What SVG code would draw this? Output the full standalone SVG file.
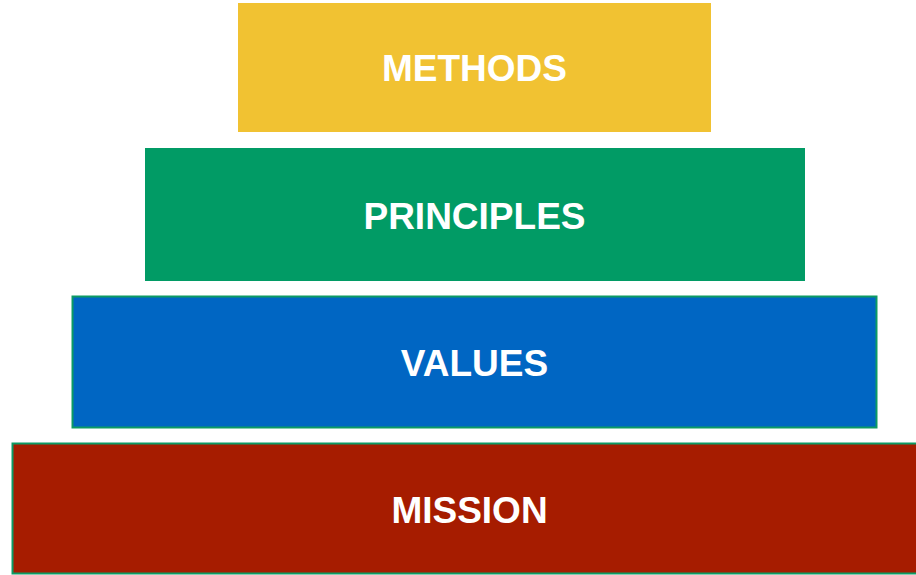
<svg xmlns="http://www.w3.org/2000/svg" width="916" height="575" viewBox="0 0 916 575">
<style>
.t{font-family:"Liberation Sans",Arial,sans-serif;font-weight:bold;font-size:37px;fill:#fff;text-anchor:middle}
</style>
<rect width="916" height="575" fill="#fff"/>
<g id="methods"><rect x="238" y="3" width="473" height="129" fill="#F1C232"/><text class="t" x="474.5" y="81">METHODS</text></g>
<g id="principles"><rect x="145" y="148" width="660" height="133" fill="#019B65"/><text class="t" x="474.5" y="229">PRINCIPLES</text></g>
<g id="values"><rect x="72.5" y="296.5" width="804" height="131" fill="#0066C3" stroke="#0C9A64" stroke-width="2"/><text class="t" x="474.5" y="376">VALUES</text></g>
<g id="mission"><rect x="12.5" y="443.5" width="910" height="130" fill="#A61C00" stroke="#0C9A64" stroke-width="2"/><text class="t" x="469.5" y="523">MISSION</text></g>
<g id="connectors"/>
</svg>
